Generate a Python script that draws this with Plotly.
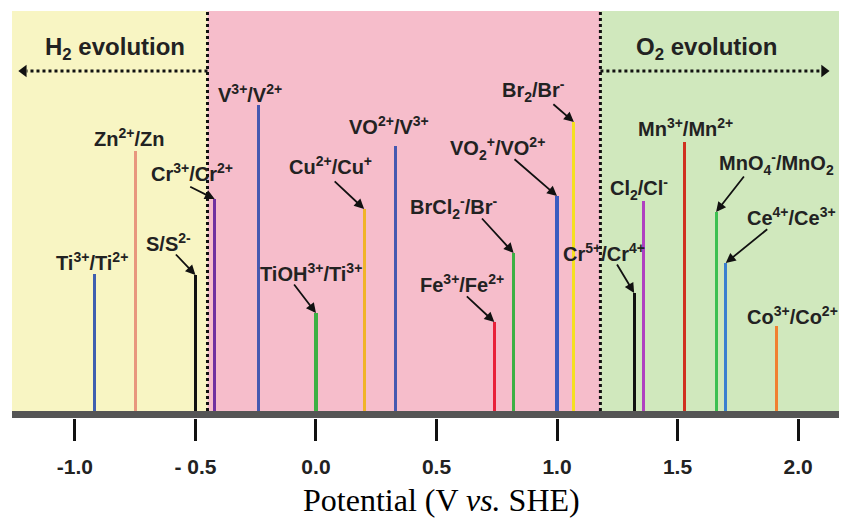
import plotly.graph_objects as go

# ---- data ----
couples = ["Ti<sup>3+</sup>/Ti<sup>2+</sup>", "Zn<sup>2+</sup>/Zn", "S/S<sup>2-</sup>",
           "Cr<sup>3+</sup>/Cr<sup>2+</sup>", "V<sup>3+</sup>/V<sup>2+</sup>",
           "TiOH<sup>3+</sup>/Ti<sup>3+</sup>", "Cu<sup>2+</sup>/Cu<sup>+</sup>",
           "VO<sup>2+</sup>/V<sup>3+</sup>", "Fe<sup>3+</sup>/Fe<sup>2+</sup>",
           "BrCl<sub>2</sub><sup>-</sup>/Br<sup>-</sup>", "VO<sub>2</sub><sup>+</sup>/VO<sup>2+</sup>",
           "Br<sub>2</sub>/Br<sup>-</sup>", "Cr<sup>5+</sup>/Cr<sup>4+</sup>",
           "Cl<sub>2</sub>/Cl<sup>-</sup>", "Mn<sup>3+</sup>/Mn<sup>2+</sup>",
           "MnO<sub>4</sub><sup>-</sup>/MnO<sub>2</sub>", "Ce<sup>4+</sup>/Ce<sup>3+</sup>",
           "Co<sup>3+</sup>/Co<sup>2+</sup>"]
potentials = [-0.92, -0.75, -0.50, -0.42, -0.24, 0.00, 0.20, 0.33, 0.74,
              0.82, 1.00, 1.07, 1.32, 1.36, 1.53, 1.66, 1.70, 1.91]
heights = [137, 260, 136, 212, 306, 98, 202, 265, 89,
           158, 215, 289, 118, 210, 269, 199, 148, 85]
tick_values = [-1.0, -0.5, 0.0, 0.5, 1.0, 1.5, 2.0]
tick_labels = ["-1.0", "- 0.5", "0.0", "0.5", "1.0", "1.5", "2.0"]
h2_limit = -0.45
o2_limit = 1.18

# ---- styles ----
line_colors = ["#3f5fb0", "#e8977e", "#111111", "#7030a0", "#4658b0", "#3cb043",
               "#f0b428", "#4658b0", "#e8203a", "#3cb043", "#3a5cc0", "#f5e020",
               "#111111", "#b040c0", "#d03020", "#3cc050", "#3a80d0", "#f08030"]
# label centre offsets from line top (px, +y is up)
label_dx = [-2, -6, -27, -23, -8, -5, -34, -7, -32, -60, -60, -40, -30, -5, 1, 60, 66, 16]
label_dy = [13, 14, 33, 27, 12, 41, 44, 21, 39, 46, 48, 32, 41, 13, 15, 49, 47, 11]
# arrow tails (px offsets from line top, +y is down); None = no arrow
arrow_ax = [None, None, -21, -26, None, -23, -31, None, -29, -33, -44, -22, -18, None, None, 29, 43, None]
arrow_ay = [None, None, -22, -13, None, -30, -29, None, -27, -36, -38, -19, -30, None, None, -37, -35, None]

XMIN, XMAX = -1.261, 2.174
YMIN, YMAX = -7, 400
SANS = "Liberation Sans, Arial, sans-serif"

fig = go.Figure()
fig.add_trace(go.Bar(x=potentials, y=heights, width=0.013,
                     marker=dict(color=line_colors, line=dict(width=0)),
                     hoverinfo="skip", showlegend=False))

# arrowheads of the evolution arrows
fig.add_trace(go.Scatter(x=[-1.212, 2.108], y=[340, 340], mode="markers",
                         marker=dict(symbol=["triangle-left", "triangle-right"], size=11,
                                     color="#111111"),
                         hoverinfo="skip", showlegend=False))

shapes = [
    dict(type="rect", xref="x", yref="y", x0=XMIN, x1=h2_limit, y0=0, y1=YMAX,
         fillcolor="#f8f5c3", line_width=0, layer="below"),
    dict(type="rect", xref="x", yref="y", x0=h2_limit, x1=o2_limit, y0=0, y1=YMAX,
         fillcolor="#f6bdcb", line_width=0, layer="below"),
    dict(type="rect", xref="x", yref="y", x0=o2_limit, x1=XMAX, y0=0, y1=YMAX,
         fillcolor="#d0e8bd", line_width=0, layer="below"),
    dict(type="line", xref="x", yref="y", x0=h2_limit, x1=h2_limit, y0=0, y1=YMAX,
         line=dict(color="#111111", width=3, dash="dot")),
    dict(type="line", xref="x", yref="y", x0=o2_limit, x1=o2_limit, y0=0, y1=YMAX,
         line=dict(color="#111111", width=3, dash="dot")),
    dict(type="line", xref="x", yref="y", x0=h2_limit, x1=-1.20, y0=340, y1=340,
         line=dict(color="#111111", width=3, dash="dot")),
    dict(type="line", xref="x", yref="y", x0=o2_limit, x1=2.095, y0=340, y1=340,
         line=dict(color="#111111", width=3, dash="dot")),
    dict(type="rect", xref="x", yref="y", x0=XMIN, x1=XMAX, y0=-7, y1=0,
         fillcolor="#555555", line_width=0),
]

annotations = []
for i, lab in enumerate(couples):
    annotations.append(dict(x=potentials[i], y=heights[i], xref="x", yref="y", text=f"<b>{lab}</b>",
                            showarrow=False, xshift=label_dx[i], yshift=label_dy[i],
                            xanchor="center", yanchor="middle",
                            font=dict(family=SANS, size=20, color="#222222")))
    if arrow_ax[i] is not None:
        annotations.append(dict(x=potentials[i], y=heights[i], xref="x", yref="y", text="",
                                showarrow=True, ax=arrow_ax[i], ay=arrow_ay[i],
                                arrowhead=2, arrowsize=1.1, arrowwidth=1.8,
                                arrowcolor="#111111", standoff=0))

annotations.append(dict(x=-0.834, y=363, xref="x", yref="y", text="<b>H<sub>2</sub> evolution</b>",
                        showarrow=False, font=dict(family=SANS, size=24, color="#222222")))
annotations.append(dict(x=1.62, y=363, xref="x", yref="y", text="<b>O<sub>2</sub> evolution</b>",
                        showarrow=False, font=dict(family=SANS, size=24, color="#222222")))
annotations.append(dict(x=0.519, y=-0.2015, xref="paper", yref="paper",
                        text="Potential (V <i>vs.</i> SHE)", showarrow=False,
                        xanchor="center", yanchor="middle",
                        font=dict(family="Liberation Serif, Times New Roman, serif", size=32,
                                  color="#000000")))

# the page body adds an 8 px offset, so the figure is 8 px smaller than the window
fig.update_layout(
    width=839, height=514,
    margin=dict(l=4, r=7, t=3, b=104),
    paper_bgcolor="white", plot_bgcolor="white",
    shapes=shapes, annotations=annotations,
    bargap=0,
    xaxis=dict(range=[XMIN, XMAX], showgrid=False, zeroline=False, showline=False,
               tickmode="array", tickvals=tick_values, ticktext=tick_labels,
               ticks="outside", ticklen=22, tickwidth=3, tickcolor="#111111",
               ticklabelstandoff=8,
               tickfont=dict(family=SANS, size=21, color="#222222", weight="bold")),
    yaxis=dict(range=[YMIN, YMAX], visible=False),
)

fig.write_html("out.html")
